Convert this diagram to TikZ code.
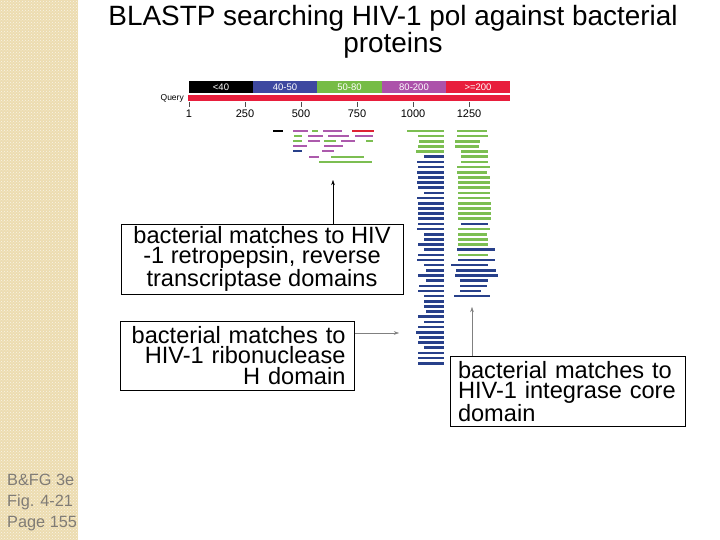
\documentclass[tikz,border=0pt]{standalone}
\usepackage{fontspec}
\setmainfont{Liberation Sans}
\usetikzlibrary{calc,patterns,arrows.meta}

\definecolor{stripbeige}{RGB}{236,220,176}
\definecolor{hitgreen}{RGB}{124,190,82}
\definecolor{hitblue}{RGB}{40,64,138}
\definecolor{hitpurple}{RGB}{172,90,172}
\definecolor{hitred}{RGB}{222,34,52}
\definecolor{keyblue}{RGB}{62,72,160}
\definecolor{keygreen}{RGB}{118,188,70}
\definecolor{keypurple}{RGB}{172,82,170}
\definecolor{keyred}{RGB}{232,30,60}
\definecolor{notegray}{RGB}{128,124,118}

\newcommand{\hit}[4]{\fill[#4] (#1,#3-1.3) rectangle (#2,#3+1.3);}

\tikzset{
  callout/.style={draw, thin, inner xsep=8pt, inner ysep=0pt,
    font=\fontsize{23.6}{20.5}\selectfont},
  pointer/.style={-{Stealth[length=5pt,width=3.5pt]}, thin},
}

\begin{document}
\begin{tikzpicture}[x=1pt,y=-1pt]
        \useasboundingbox (0,0) rectangle (720,540);
        \fill[white] (0,0) rectangle (720,540);
        \fill[stripbeige] (0,0) rectangle (78,540);
        \fill[pattern=crosshatch dots, pattern color=white!70!stripbeige] (0,0) rectangle (78,540);

        \node[align=left, anchor=west, inner sep=0pt, text=notegray,
              font=\fontsize{16.3}{21}\selectfont] (figNote) at (7,502) {B\&FG 3e\\Fig. 4-21\\Page 155};

        \node[align=center, inner sep=0pt, font=\fontsize{27.9}{23.5}\selectfont] (title) at (393,32)
              {BLASTP searching HIV-1 pol against bacterial\\proteins};

        % colour key and query
        \foreach \a/\b/\c/\t in {189/253/black/{<40}, 253/317/keyblue/40-50, 317/382/keygreen/50-80,
                                 382/446/keypurple/80-200, 446/510/keyred/{>=200}} {
            \fill[\c] (\a,81) rectangle (\b,93);
            \node[text=white, font=\fontsize{9.5}{10}\selectfont, inner sep=0pt] at ({(\a+\b)/2},87) {\t};
        }
        \node[anchor=east, inner sep=0pt, font=\fontsize{8.5}{9}\selectfont] (queryLbl) at (184,98) {Query};
        \fill[keyred] (188,95) rectangle (510,101.5);
        \foreach \p/\x in {1/189, 250/245, 500/301, 750/357, 1000/413, 1250/469} {
            \draw[gray!60!black] (\x,102) -- (\x,107);
            \node[font=\fontsize{11}{12}\selectfont, inner sep=0pt] at (\x,113.5) {\p};
        }

        % retropepsin / reverse transcriptase hits
        \hit{273}{283}{131}{black} \hit{293}{308}{131}{hitpurple} \hit{312}{318}{131}{hitgreen}
        \hit{323}{342}{131}{hitpurple} \hit{352}{374}{131}{hitred}
        \hit{294}{302}{136}{hitgreen} \hit{308}{323}{136}{hitpurple} \hit{328}{349}{136}{hitpurple}
        \hit{355}{373}{136}{hitpurple}
        \hit{293}{302}{141}{hitgreen} \hit{308}{320}{141}{hitpurple} \hit{324}{336}{141}{hitgreen}
        \hit{341}{355}{141}{hitpurple} \hit{366}{373}{141}{hitgreen}
        \hit{293}{307}{146}{hitpurple} \hit{324}{343}{146}{hitpurple}
        \hit{293}{302}{151}{hitblue} \hit{322}{334}{151}{hitpurple}
        \hit{309}{319}{157}{hitpurple} \hit{331}{364}{157}{hitgreen}
        \hit{319}{372}{162}{hitgreen}

        % ribonuclease H hits
        \foreach \k/\a/\c in {0/407/hitgreen, 1/418/hitgreen, 2/419/hitgreen, 3/418/hitgreen, 4/416/hitgreen,
                              5/424/hitblue, 6/417/hitblue, 7/418/hitblue, 8/417/hitblue, 9/418/hitblue,
                              10/417/hitblue, 11/418/hitblue, 12/424/hitblue, 13/417/hitblue, 14/418/hitblue,
                              15/418/hitblue, 16/418/hitblue, 17/418/hitblue, 18/418/hitblue, 19/417/hitblue,
                              20/424/hitblue, 21/424/hitblue, 22/418/hitblue, 23/424/hitblue, 24/418/hitblue,
                              25/417/hitblue, 26/424/hitblue, 27/426/hitblue, 28/418/hitblue, 29/426/hitblue,
                              30/419/hitblue, 31/418/hitblue, 32/424/hitblue, 33/424/hitblue, 34/424/hitblue,
                              35/426/hitblue, 36/418/hitblue, 37/424/hitblue, 38/418/hitblue, 39/416/hitblue,
                              40/419/hitblue, 41/418/hitblue, 42/424/hitblue, 43/418/hitblue, 44/418/hitblue,
                              45/418/hitblue} {
            \hit{\a}{444}{131+5.16*\k}{\c}
        }

        % integrase core hits
        \foreach \k/\a/\b/\c in {0/457/487/hitgreen, 1/457/488/hitgreen, 2/455/480/hitgreen, 3/455/479/hitgreen,
                                 4/461/488/hitgreen, 5/461/488/hitgreen, 6/461/488/hitgreen, 7/457/490/hitgreen,
                                 8/457/487/hitgreen, 9/458/490/hitgreen, 10/458/490/hitgreen, 11/458/490/hitgreen,
                                 12/458/490/hitgreen, 13/458/490/hitgreen, 14/458/491/hitgreen, 15/458/491/hitgreen,
                                 16/458/491/hitgreen, 17/458/491/hitgreen, 18/461/488/hitblue, 19/458/490/hitgreen,
                                 20/458/487/hitgreen, 21/458/488/hitgreen, 22/458/488/hitgreen, 23/457/495/hitblue,
                                 24/458/488/hitgreen, 25/458/495/hitblue, 26/451/488/hitblue, 27/456/496/hitblue,
                                 28/455/498/hitblue, 29/460/488/hitblue, 30/460/487/hitblue, 31/460/481/hitblue,
                                 32/454/490/hitblue} {
            \hit{\a}{\b}{131+5.16*\k}{\c}
        }

        % callouts
        \node[callout, align=center, minimum width=282pt, minimum height=70pt] (rtBox) at (262,259)
              {bacterial matches to HIV\\-1 retropepsin, reverse\\transcriptase domains};
        \node[callout, align=right, text width=216pt, minimum height=69pt, inner xsep=9pt] (rnBox) at (237.5,355.5)
              {bacterial matches to\\HIV-1 ribonuclease\\H domain};
        \node[callout, align=left, text width=219pt, minimum height=70pt] (inBox) at (567.5,391.5)
              {bacterial matches to\\HIV-1 integrase core\\domain};

        \coordinate (rtTip) at (333,180);
        \coordinate (rnTip) at (399,333);
        \coordinate (inTip) at (472,307);
        \draw[pointer] (rtBox.north -| rtTip) -- (rtTip);
        \draw[pointer, gray] (rnBox.east |- rnTip) -- (rnTip);
        \draw[pointer, gray] (inBox.north -| inTip) -- (inTip);
\end{tikzpicture}
\end{document}
